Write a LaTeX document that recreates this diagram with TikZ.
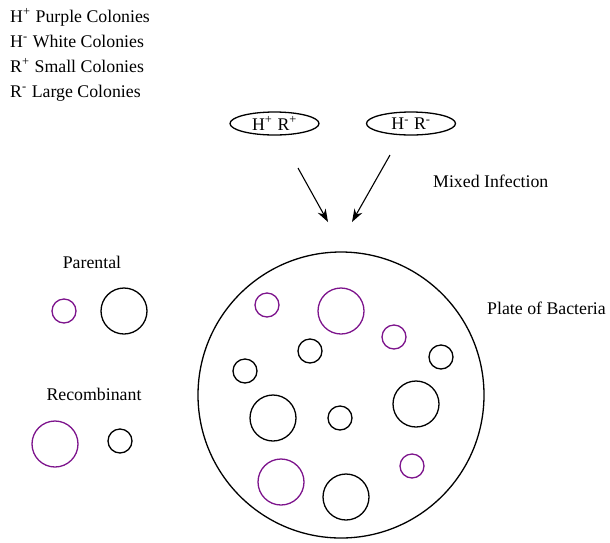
\documentclass[tikz,border=0pt]{standalone}
\usepackage{fontspec}
\setmainfont{Liberation Serif}
\usetikzlibrary{shapes.geometric,arrows.meta}
\definecolor{colonypurple}{RGB}{125,20,140}
\newcommand\chg[1]{\textsuperscript{#1}\hspace{0.6pt}}
\begin{document}
\begin{tikzpicture}[x=1pt,y=-1pt,
  every node/.style={font=\fontsize{17.8}{21}\selectfont},
  lbl/.style={anchor=base west,inner sep=0pt},
  clbl/.style={anchor=base,inner sep=0pt},
  phage/.style={draw,line width=1.3pt,ellipse,minimum width=89pt,minimum height=23pt,inner sep=0pt},
  plate/.style={draw,line width=1.3pt,circle,minimum size=286pt,inner sep=0pt},
  white col/.style={draw,line width=1.3pt,circle,inner sep=0pt},
  purple col/.style={draw=colonypurple,line width=1.3pt,circle,inner sep=0pt},
  small/.style={minimum size=24pt},
  large/.style={minimum size=46pt},
  infect/.style={line width=1.1pt,-{Stealth[length=13pt,width=9pt]}}]
\useasboundingbox (0,0) rectangle (610,542);

% key
\node[lbl] (k1) at (10,22) {H\chg{+} Purple Colonies};
\node[lbl] (k2) at (10,47) {H\chg{-} White Colonies};
\node[lbl] (k3) at (10,72) {R\chg{+} Small Colonies};
\node[lbl] (k4) at (10,97) {R\chg{-} Large Colonies};

% parent phages
\node[phage] (p1) at (274.5,123.5) {H\chg{+} R\chg{+}};
\node[phage] (p2) at (411,123.5) {H\chg{-} R\chg{-}};

% infection arrows
\coordinate (a1s) at (298,168);
\coordinate (a1e) at (328,222);
\coordinate (a2s) at (390,155);
\coordinate (a2e) at (352,222);
\draw[infect] (a1s) -- (a1e);
\draw[infect] (a2s) -- (a2e);
\node[lbl] (mix) at (433,187) {Mixed Infection};

% plate
\node[plate] (plate) at (341,395) {};
\node[lbl] (platelbl) at (487,314) {Plate of Bacteria};

% colonies on the plate
\node[purple col,small] (c1) at (267,305) {};
\node[purple col,large] (c2) at (341,311) {};
\node[purple col,small] (c3) at (394,337) {};
\node[white col,small] (c4) at (310,351) {};
\node[white col,small] (c5) at (441,357) {};
\node[white col,small] (c6) at (245,371) {};
\node[white col,large] (c7) at (273,418) {};
\node[white col,small] (c8) at (340,418) {};
\node[white col,large] (c9) at (416,404) {};
\node[purple col,small] (c10) at (412,466) {};
\node[purple col,large] (c11) at (281,482) {};
\node[white col,large] (c12) at (346,497) {};

% parental and recombinant types
\node[clbl] (par) at (92,268) {Parental};
\node[purple col,small] (par1) at (64,311) {};
\node[white col,large] (par2) at (124,311) {};
\node[clbl] (rec) at (94,400) {Recombinant};
\node[purple col,large] (rec1) at (55,444) {};
\node[white col,small] (rec2) at (120,441) {};
\end{tikzpicture}
\end{document}
